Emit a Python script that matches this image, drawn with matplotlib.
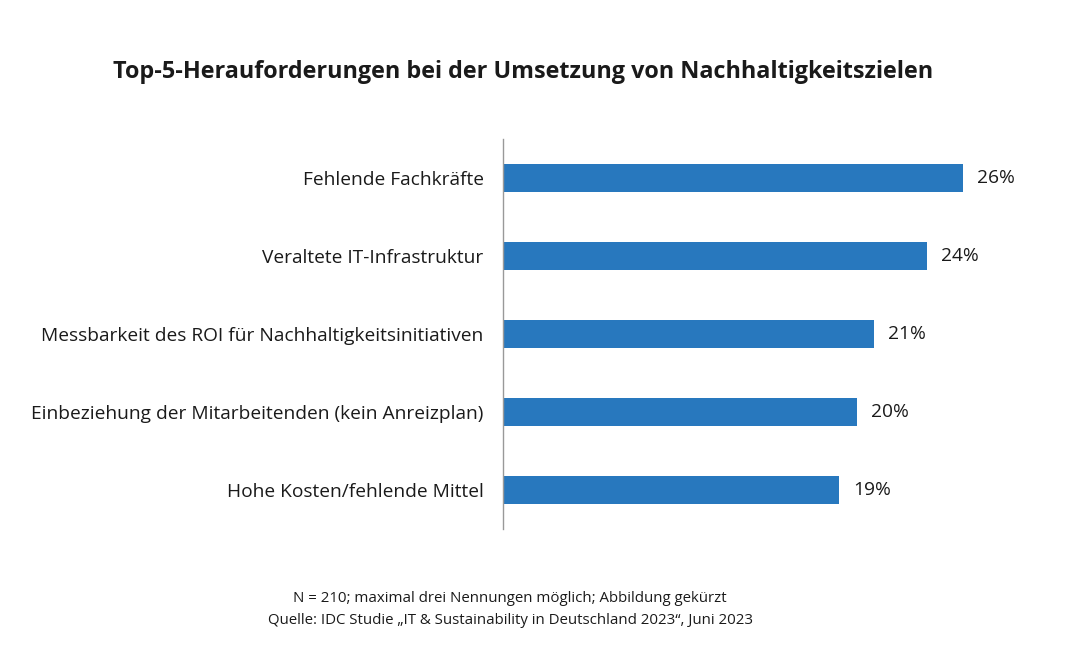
import matplotlib.pyplot as plt

plt.rcParams['font.family'] = ['Open Sans', 'DejaVu Sans']

categories = [
    'Fehlende Fachkräfte',
    'Veraltete IT-Infrastruktur',
    'Messbarkeit des ROI für Nachhaltigkeitsinitiativen',
    'Einbeziehung der Mitarbeitenden (kein Anreizplan)',
    'Hohe Kosten/fehlende Mittel',
]
values = [26, 24, 21, 20, 19]

title = 'Top-5-Herauforderungen bei der Umsetzung von Nachhaltigkeitszielen'
note = 'N = 210; maximal drei Nennungen möglich; Abbildung gekürzt'
source = 'Quelle: IDC Studie \u201eIT & Sustainability in Deutschland 2023\u201c, Juni 2023'

fig = plt.figure(figsize=(10.8, 6.6), dpi=100)
ax = fig.add_axes([0.4657, 0.1985, 0.4913, 0.5909])

pos = list(range(len(categories)))
ax.barh(pos, values, height=0.35, color='#2878be')
ax.set_yticks(pos)
ax.set_yticklabels(categories, fontsize=13.8, color='#1a1a1a')
ax.set_xlim(0, 30)
ax.set_ylim(len(categories) - 0.5, -0.5)
ax.tick_params(axis='y', length=0, pad=14)
ax.set_xticks([])

for s in ['top', 'right', 'bottom']:
    ax.spines[s].set_visible(False)
ax.spines['left'].set_color('#999999')
ax.spines['left'].set_linewidth(1)

for p, v in zip(pos, values):
    ax.annotate(f'{v}%', (v, p), xytext=(10, 0), textcoords='offset points',
                va='center', ha='left', fontsize=13.8, color='#1a1a1a')

fig.text(113 / 1080, 1 - 72 / 660, title, fontsize=16.85, fontweight='bold',
         ha='left', va='center', color='#1a1a1a')
fig.text(510 / 1080, 1 - 598 / 660, note, fontsize=10.8, ha='center', va='center', color='#1a1a1a')
fig.text(510 / 1080, 1 - 620 / 660, source, fontsize=10.8, ha='center', va='center', color='#1a1a1a')

fig.savefig('out.png', dpi=100)
